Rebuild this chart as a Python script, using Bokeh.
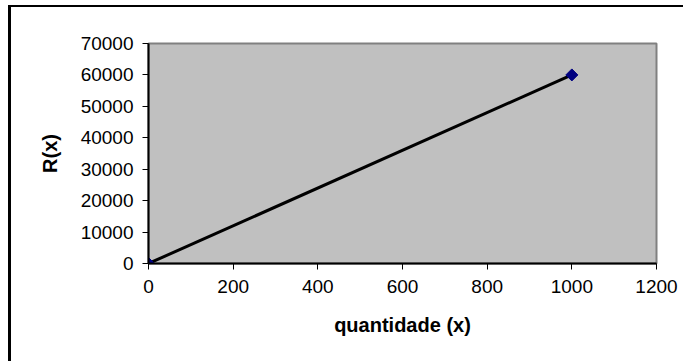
import math
from bokeh.plotting import figure
from bokeh.models import Range1d, FixedTicker
from bokeh.embed import file_html
from bokeh.resources import INLINE

# quantity sold and the resulting revenue R(x)
quantidade = [0, 1000]
receita = [0, 60000]

x_ticks = [0, 200, 400, 600, 800, 1000, 1200]
y_ticks = [0, 10000, 20000, 30000, 40000, 50000, 60000, 70000]

p = figure(
    width=675, height=356,
    margin=(5, 0, 0, 8),
    styles={"border-left": "3px solid black", "border-top": "2px solid black"},
    output_backend="svg", toolbar_location=None,
    x_range=Range1d(0, 1200), y_range=Range1d(0, 70000),
    min_border_left=137, min_border_right=30,
    min_border_top=36, min_border_bottom=100,
)

p.background_fill_color = "#C0C0C0"
p.border_fill_color = "white"
p.outline_line_color = "#808080"
p.outline_line_width = 2
p.xgrid.visible = False
p.ygrid.visible = False

font = "Liberation Sans"
for ax in (p.xaxis[0], p.yaxis[0]):
    ax.axis_line_color = "black"
    ax.axis_line_width = 2
    ax.major_tick_line_color = "black"
    ax.major_tick_line_width = 1
    ax.major_tick_in = 0
    ax.major_tick_out = 6
    ax.minor_tick_line_color = None
    ax.major_label_text_font = font
    ax.major_label_text_font_size = "19px"
    ax.major_label_text_color = "black"
    ax.axis_label_text_font = font
    ax.axis_label_text_font_size = "20px"
    ax.axis_label_text_font_style = "bold"
    ax.axis_label_text_color = "black"

p.xaxis.ticker = FixedTicker(ticks=x_ticks)
p.yaxis.ticker = FixedTicker(ticks=y_ticks)
p.xaxis.major_label_standoff = 10
p.yaxis.major_label_standoff = 9
p.xaxis.axis_label = "quantidade (x)"
p.yaxis.axis_label = "R(x)"
p.xaxis.axis_label_standoff = 18
p.yaxis.axis_label_standoff = 17

p.line(quantidade, receita, line_color="black", line_width=3)
p.scatter(quantidade, receita, marker="square", size=8.5, angle=math.pi / 4,
          fill_color="#000080", line_color="#000080")

open("out.html", "w").write(file_html(p, INLINE))
